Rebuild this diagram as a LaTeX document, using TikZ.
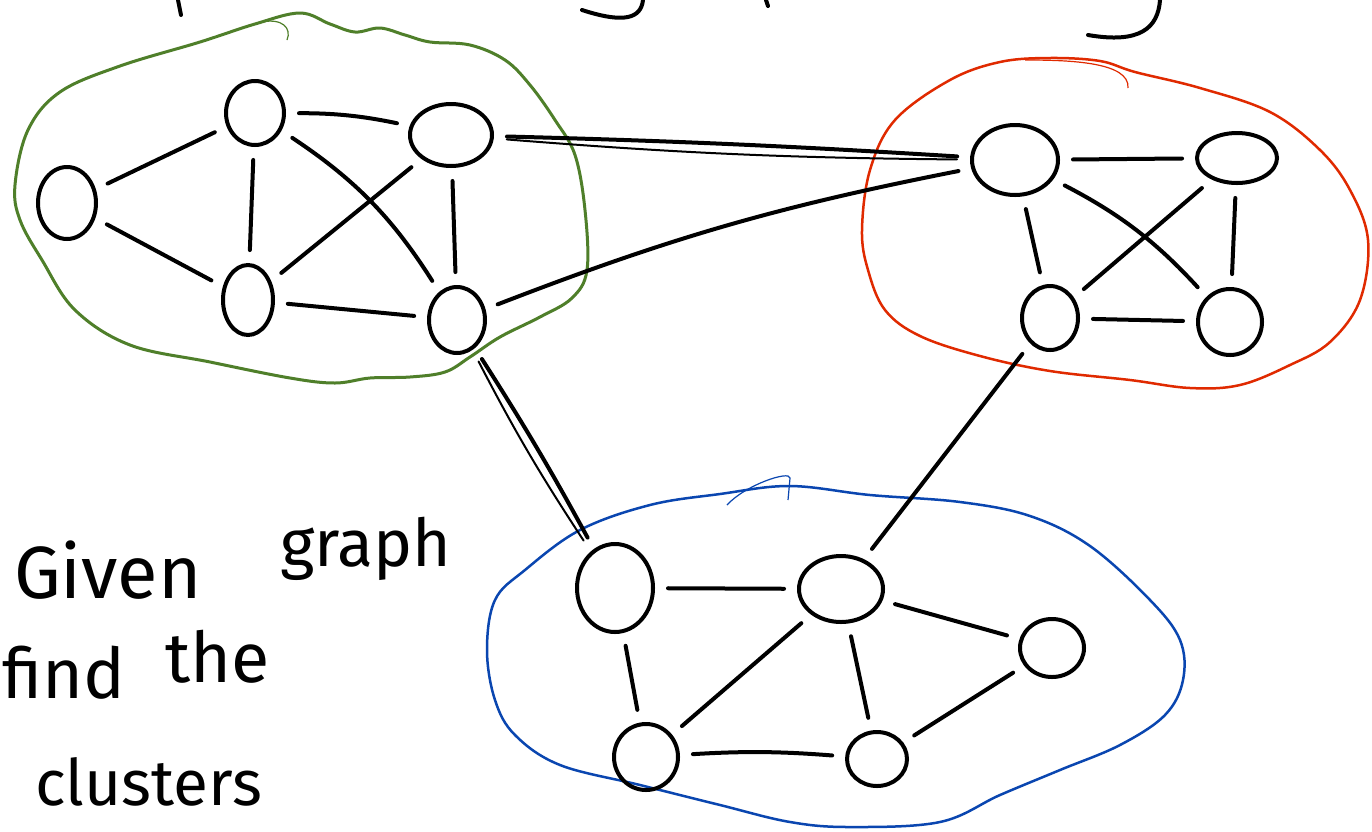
\documentclass[tikz,border=0pt]{standalone}
\usepackage{fontspec}
\setmainfont{Fira Sans}
\usetikzlibrary{shapes.geometric}
\definecolor{grn}{HTML}{4F7F2A}
\definecolor{rd}{HTML}{E02A00}
\definecolor{bl}{HTML}{0A46B0}
\tikzset{
  vert/.style={draw, ellipse, line width=4pt, inner sep=0pt},
  edge/.style={line width=4pt, line cap=round, shorten <=13pt, shorten >=13pt},
  blob/.style={line width=3pt, line cap=round},
  hand/.style={font=\fontsize{70}{80}\selectfont, inner sep=0pt, anchor=base west},
  thin/.style={line width=1.2pt}
}
\begin{document}
\begin{tikzpicture}[x=1pt,y=-1pt]
\path[use as bounding box, fill=white] (0,0) rectangle (1372,831);
% clusters
\draw[blob, grn] plot[smooth cycle, tension=0.6] coordinates {(15,185) (28,130) (60,92) (120,66) (200,42) (255,24) (300,13) (330,24) (355,32) (380,28) (405,35) (430,42) (470,45) (505,60) (530,85) (555,120) (575,155) (585,210) (587,270) (572,298) (540,317) (500,337) (470,357) (445,372) (410,377) (370,378) (335,383) (290,378) (210,362) (130,345) (75,310) (42,260) (20,220)};
\draw[thin, grn] (262,22) .. controls (282,18) and (292,28) .. (287,40);
\draw[blob, rd, line width=2.5pt] plot[smooth cycle, tension=0.6] coordinates {(862,230) (870,170) (895,120) (950,80) (1000,62) (1050,58) (1100,61) (1135,72) (1200,88) (1270,112) (1320,150) (1350,190) (1368,240) (1360,300) (1330,342) (1290,365) (1240,385) (1190,388) (1130,380) (1050,371) (980,356) (920,336) (885,310) (868,270)};
\draw[thin, rd] (1025,60) .. controls (1070,60) and (1130,62) .. (1128,88);
\draw[blob, bl, line width=2.5pt] plot[smooth cycle, tension=0.6] coordinates {(487,650) (495,600) (525,570) (580,530) (650,505) (720,494) (790,486) (870,495) (960,502) (1030,516) (1090,546) (1150,600) (1180,640) (1183,680) (1165,715) (1120,745) (1060,770) (1000,795) (940,822) (850,827) (790,822) (720,805) (640,785) (560,765) (515,735) (495,700)};
\draw[thin, bl] (727,505) .. controls (745,485) and (790,470) .. (790,478) -- (788,500);
% vertices green
\node[vert, minimum width=58pt, minimum height=72pt] (A) at (67,203) {};
\node[vert, minimum width=58pt, minimum height=64pt] (B) at (255,113) {};
\node[vert, minimum width=82pt, minimum height=62pt] (C) at (451,135) {};
\node[vert, minimum width=50pt, minimum height=70pt] (D) at (248,300) {};
\node[vert, minimum width=56pt, minimum height=66pt] (E) at (457,320) {};
% vertices red
\node[vert, minimum width=86pt, minimum height=70pt] (F) at (1015,160) {};
\node[vert, minimum width=80pt, minimum height=50pt] (G) at (1237,158) {};
\node[vert, minimum width=56pt, minimum height=64pt] (H) at (1050,318) {};
\node[vert, minimum width=64pt, minimum height=66pt] (I) at (1230,322) {};
% vertices blue
\node[vert, minimum width=76pt, minimum height=88pt] (J) at (615,588) {};
\node[vert, minimum width=84pt, minimum height=66pt] (K) at (841,589) {};
\node[vert, minimum width=64pt, minimum height=58pt] (L) at (1052,648) {};
\node[vert, minimum width=64pt, minimum height=66pt] (M) at (646,757) {};
\node[vert, minimum width=60pt, minimum height=54pt] (N) at (877,759) {};
% green edges
\draw[edge] (A) -- (B);
\draw[edge] (A) -- (D);
\draw[edge] (B) to[bend left=6] (C);
\draw[edge] (B) -- (D);
\draw[edge] (B) to[bend left=12] (E);
\draw[edge] (C) -- (D);
\draw[edge] (C) -- (E);
\draw[edge] (D) -- (E);
% red edges
\draw[edge] (F) -- (G);
\draw[edge] (F) -- (H);
\draw[edge] (F) to[bend left=10] (I);
\draw[edge] (G) -- (H);
\draw[edge] (G) -- (I);
\draw[edge] (H) -- (I);
% blue edges
\draw[edge] (J) -- (K);
\draw[edge] (J) -- (M);
\draw[edge] (K) -- (L);
\draw[edge] (K) -- (N);
\draw[edge] (M) -- (K);
\draw[edge] (M) to[bend left=4] (N);
\draw[edge] (N) -- (L);
% inter-cluster edges
\draw[edge] (C) to[bend left=1] (F);
\draw[edge, line width=2pt] (C) to[bend right=2] (F);
\draw[edge] (E) to[bend left=5] (F);
\draw[edge] (E) to[bend left=2] (J);
\draw[edge, line width=2pt] (E) to[bend right=3] (J);
\draw[edge] (H) -- (K);
% cut-off strokes at the top
\draw[line width=4pt, line cap=round] (178,0) -- (181,15);
\draw[line width=4pt, line cap=round] (643,0) .. controls (641,18) and (625,24) .. (582,10);
\draw[line width=4pt, line cap=round] (766,0) -- (768,6);
\draw[line width=4pt, line cap=round] (1160,0) .. controls (1158,28) and (1140,44) .. (1088,35);
% text
\node[hand, font=\fontsize{74}{80}\selectfont] (t1) at (14,598) {Given};
\node[hand, font=\fontsize{66}{80}\selectfont] (t2) at (280,566) {graph};
\node[hand] (t3) at (2,698) {find};
\node[hand] (t4) at (165,682) {the};
\node[hand, font=\fontsize{64}{80}\selectfont] (t5) at (35,805) {clusters};
\end{tikzpicture}
\end{document}
